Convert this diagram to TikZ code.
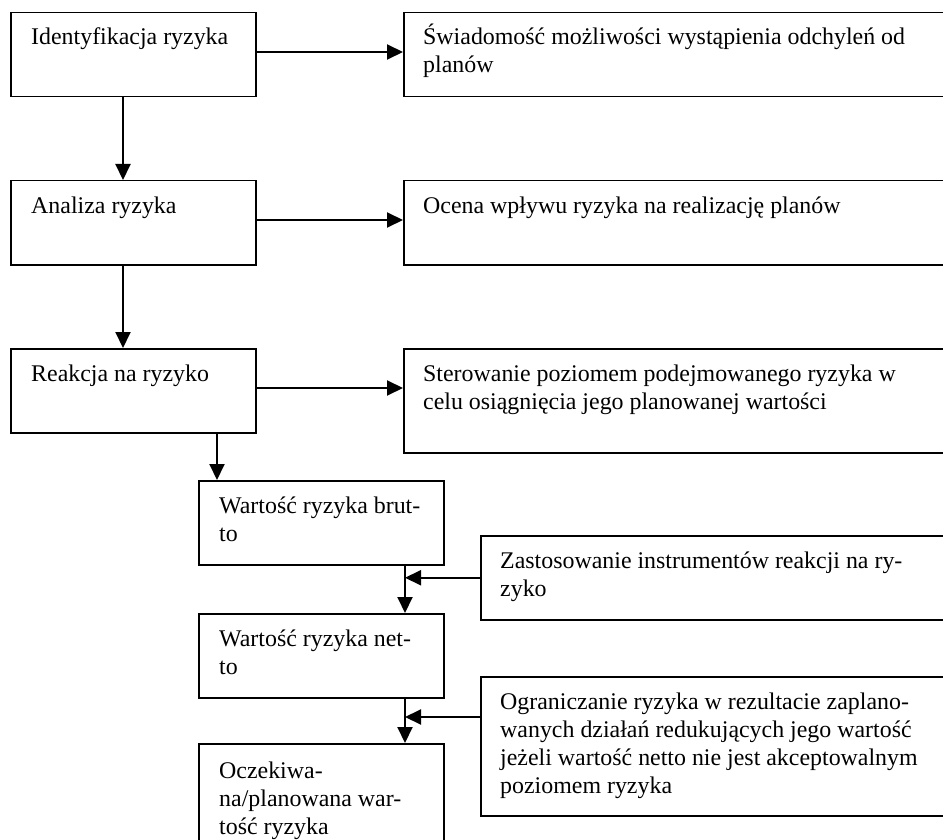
\documentclass[tikz,border=0pt]{standalone}
\usepackage{fontspec}
\setmainfont{Liberation Serif}
\usetikzlibrary{arrows.meta}
\newcommand{\lns}[1]{\begin{tabular}[t]{@{}l@{}}#1\end{tabular}}
\begin{document}
\begin{tikzpicture}[x=1pt,y=-1pt,
  box/.style={draw, line width=1.5pt, rectangle, inner sep=0pt, anchor=north west},
  lbox/.style={box, minimum width=245pt, minimum height=84pt},
  rbox/.style={box, minimum width=560pt},
  txt/.style={anchor=base west, inner sep=0pt, font=\fontsize{23.9}{28}\selectfont},
  arr/.style={line width=2pt, -{Triangle[length=16pt,width=15pt]}}
]
\useasboundingbox (0,0) rectangle (943,840);
\clip (0,0) rectangle (943,840);
\fill[white] (0,0) rectangle (943,840);

% left column
\node[lbox] (id) at (10,12) {};
\node[lbox] (an) at (10,180) {};
\node[lbox] (re) at (10,348) {};
% right column
\node[rbox, minimum height=84pt] (idr) at (403,12) {};
\node[rbox, minimum height=84pt] (anr) at (403,180) {};
\node[rbox, minimum height=104pt] (rer) at (403,348) {};
% lower chain
\node[lbox] (br) at (198,480) {};
\node[lbox] (ne) at (198,613) {};
\node[lbox, minimum height=140pt] (oc) at (198,743) {};
\node[box, minimum width=480pt, minimum height=84pt] (za) at (480,535) {};
\node[box, minimum width=480pt, minimum height=139pt] (og) at (480,676) {};

% texts
\node[txt] (tid) at ([xshift=21pt,yshift=-33pt]id.north west) {Identyfikacja ryzyka};
\node[txt] (tan) at ([xshift=21pt,yshift=-33pt]an.north west) {Analiza ryzyka};
\node[txt] (tre) at ([xshift=21pt,yshift=-33pt]re.north west) {Reakcja na ryzyko};
\node[txt] (tidr) at ([xshift=20pt,yshift=-33pt]idr.north west) {\lns{Świadomość możliwości wystąpienia odchyleń od\\planów}};
\node[txt] (tanr) at ([xshift=20pt,yshift=-33pt]anr.north west) {Ocena wpływu ryzyka na realizację planów};
\node[txt] (trer) at ([xshift=20pt,yshift=-33pt]rer.north west) {\lns{Sterowanie poziomem podejmowanego ryzyka w\\celu osiągnięcia jego planowanej wartości}};
\node[txt] (tbr) at ([xshift=21pt,yshift=-33pt]br.north west) {\lns{Wartość ryzyka brut-\\to}};
\node[txt] (tne) at ([xshift=21pt,yshift=-33pt]ne.north west) {\lns{Wartość ryzyka net-\\to}};
\node[txt] (toc) at ([xshift=21pt,yshift=-35pt]oc.north west) {\lns{Oczekiwa-\\na/planowana war-\\tość ryzyka}};
\node[txt] (tza) at ([xshift=20pt,yshift=-33pt]za.north west) {\lns{Zastosowanie instrumentów reakcji na ry-\\zyko}};
\node[txt] (tog) at ([xshift=20pt,yshift=-33pt]og.north west) {\lns{Ograniczanie ryzyka w rezultacie zaplano-\\wanych działań redukujących jego wartość\\jeżeli wartość netto nie jest akceptowalnym\\poziomem ryzyka}};

% helper coordinates
\coordinate (cx1) at (123,0);
\coordinate (cx2) at (217,0);
\coordinate (cx3) at (405,0);
\coordinate (cy1) at (0,52);
\coordinate (cy2) at (0,220);
\coordinate (cy3) at (0,388);
\coordinate (cy4) at (0,717);

% connectors
\draw[arr] (id.east |- cy1) -- (idr.west |- cy1);
\draw[arr] (an.east |- cy2) -- (anr.west |- cy2);
\draw[arr] (re.east |- cy3) -- (rer.west |- cy3);
\draw[arr] (id.south -| cx1) -- (an.north -| cx1);
\draw[arr] (an.south -| cx1) -- (re.north -| cx1);
\draw[arr] (re.south -| cx2) -- (br.north -| cx2);
\draw[arr] (br.south -| cx3) -- (ne.north -| cx3);
\draw[arr] (ne.south -| cx3) -- (oc.north -| cx3);
\draw[arr] (za.west) -- (za.west -| cx3);
\draw[arr] (og.west |- cy4) -- (cx3 |- cy4);
\end{tikzpicture}
\end{document}
